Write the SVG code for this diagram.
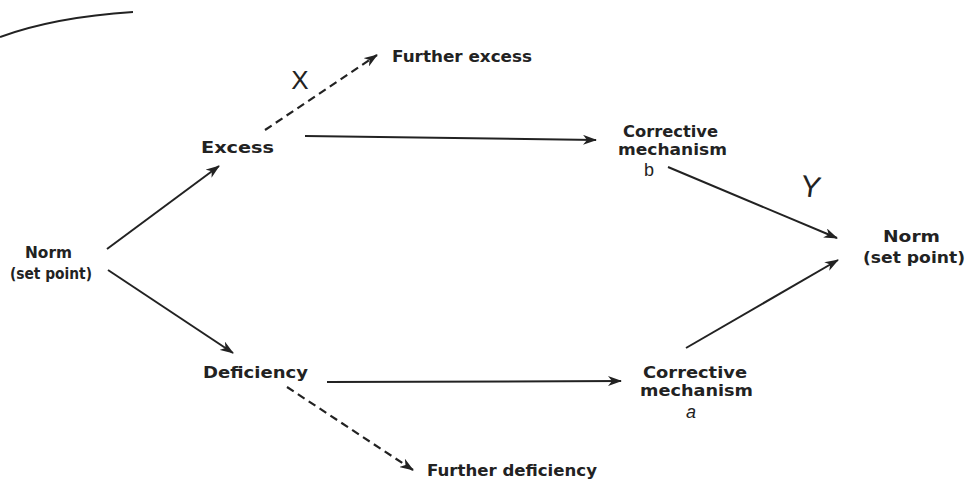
<svg xmlns="http://www.w3.org/2000/svg" width="969" height="484" viewBox="0 0 969 484">
<style>
.lbl{font-family:"DejaVu Sans","Liberation Sans",sans-serif;font-weight:bold;fill:#222;font-size:15px}
.hand{font-family:"Liberation Sans","DejaVu Sans",sans-serif;fill:#222;font-weight:normal}
.ln{stroke:#222;stroke-width:2;fill:none;marker-end:url(#ah)}
.dash{stroke-dasharray:8 5;stroke-width:2.2}
</style>
<defs>
<marker id="ah" viewBox="0 0 14 10" refX="13" refY="5" markerWidth="14" markerHeight="10" markerUnits="userSpaceOnUse" orient="auto">
<path d="M0,0 L14,5 L0,10 L4,5 z" fill="#222"/>
</marker>
</defs>
<rect width="969" height="484" fill="#fff"/>
<path d="M0,37 Q55,17 133,12" stroke="#222" stroke-width="2" fill="none"/>

<g id="connectors">
<line class="ln" x1="107" y1="249" x2="219" y2="166"/>
<line class="ln" x1="108" y1="270" x2="233" y2="353"/>
<line class="ln dash" x1="265" y1="130" x2="377" y2="55"/>
<line class="ln" x1="305" y1="136" x2="596" y2="140"/>
<line class="ln" x1="327" y1="382" x2="621" y2="381"/>
<line class="ln dash" x1="287" y1="387" x2="413" y2="470"/>
<line class="ln" x1="668" y1="167" x2="837" y2="238"/>
<line class="ln" x1="686" y1="348" x2="838" y2="260"/>
</g>

<g id="norm-left">
<text class="lbl" x="25" y="258" textLength="47" lengthAdjust="spacingAndGlyphs">Norm</text>
<text class="lbl" x="10" y="279" textLength="82" lengthAdjust="spacingAndGlyphs">(set point)</text>
</g>
<g id="excess">
<text class="lbl" x="201" y="153" textLength="73" lengthAdjust="spacingAndGlyphs">Excess</text>
</g>
<g id="further-excess">
<text class="lbl" x="392" y="62" textLength="140" lengthAdjust="spacingAndGlyphs">Further excess</text>
</g>
<g id="deficiency">
<text class="lbl" x="203" y="378" textLength="105" lengthAdjust="spacingAndGlyphs">Deficiency</text>
</g>
<g id="further-deficiency">
<text class="lbl" x="427" y="476" textLength="170" lengthAdjust="spacingAndGlyphs">Further deficiency</text>
</g>
<g id="corrective-b">
<text class="lbl" x="623" y="137" textLength="95" lengthAdjust="spacingAndGlyphs">Corrective</text>
<text class="lbl" x="618" y="155" textLength="109" lengthAdjust="spacingAndGlyphs">mechanism</text>
</g>
<g id="corrective-a">
<text class="lbl" x="643" y="378" textLength="104" lengthAdjust="spacingAndGlyphs">Corrective</text>
<text class="lbl" x="640" y="396" textLength="113" lengthAdjust="spacingAndGlyphs">mechanism</text>
</g>
<g id="norm-right">
<text class="lbl" x="883" y="242" textLength="57" lengthAdjust="spacingAndGlyphs">Norm</text>
<text class="lbl" x="863" y="263" textLength="102" lengthAdjust="spacingAndGlyphs">(set point)</text>
</g>

<g id="handwriting">
<text class="hand" x="300" y="89" font-size="26" text-anchor="middle">X</text>
<text class="hand" x="811" y="197" font-size="30" text-anchor="middle" transform="rotate(8 811 185)">Y</text>
<text class="hand" x="649" y="176" font-size="18" text-anchor="middle">b</text>
<text class="hand" x="691" y="418" font-size="18" font-style="italic" text-anchor="middle">a</text>
</g>
</svg>
